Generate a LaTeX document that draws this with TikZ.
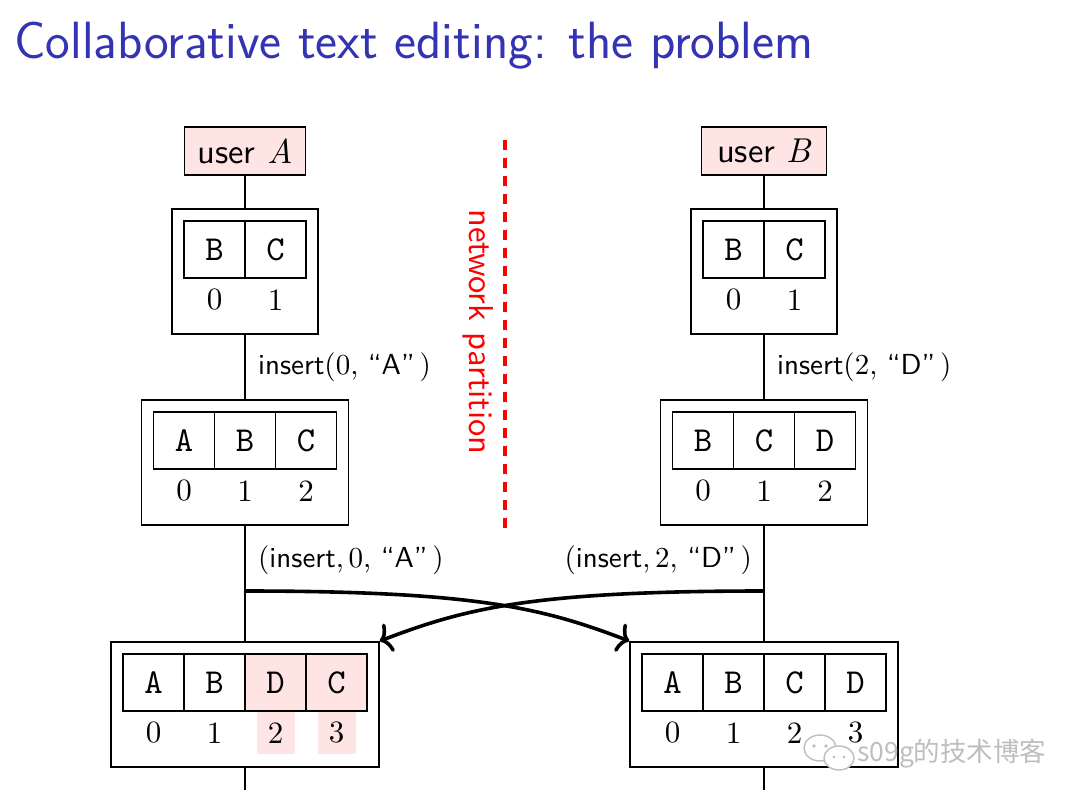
\documentclass[tikz,border=0pt]{standalone}
\usepackage{fontspec}
\newfontfamily\cjkfont{Noto Sans CJK SC}
\newfontfamily\lmsansten{lmsans10-regular}[Extension=.otf,Ligatures=TeX]
\newfontfamily\lmromanten{lmroman10-regular}[Extension=.otf,Ligatures=TeX]
\newfontfamily\lmromanitten{lmroman10-italic}[Extension=.otf]
\newfontfamily\lmmonoten{lmmono10-regular}[Extension=.otf]
\usetikzlibrary{arrows.meta}
\definecolor{titleblue}{RGB}{51,51,179}
\definecolor{pinkfill}{RGB}{255,228,228}
\definecolor{wmgray}{RGB}{190,190,190}
\newcommand\diagbody{\fontsize{34.5}{41}\selectfont\lmsansten}
\newcommand\diaglbl{\fontsize{29}{34}\selectfont\lmsansten}
\newcommand\diagcell{\fontsize{35}{40}\selectfont\lmmonoten}
\newcommand\diagdigit{\fontsize{31}{34}\selectfont\lmromanten}
\newcommand\diagtitle{\fontsize{52.4}{60}\selectfont\sffamily}
\newcommand\rmt[1]{{\lmromanten #1}}
\newcommand\itt[1]{{\lmromanitten #1}}
\newcommand\mkstate[5]{% name, cx, top, n, entries letter/cellstyle/digitstyle
  \node[outerbox, minimum width={61pt*#4+24pt}, anchor=north] (#1) at (#2,#3) {};
  \foreach \ch/\cs/\ds [count=\i from 0] in {#5} {
    \node[\cs] (#1c\i) at ({#2-61*#4/2+61*\i+30.5},{#3+41.5}) {\ch};
    \node[\ds] (#1d\i) at ({#2-61*#4/2+61*\i+30.5},{#3+92}) {\i};
  }
}
\begin{document}
\begin{tikzpicture}[x=1pt,y=-1pt,
  thinline/.style={line width=1.6pt},
  userbox/.style={draw, line width=1.6pt, fill=pinkfill, minimum height=48pt, inner sep=0pt, font=\diagbody},
  outerbox/.style={draw, line width=1.6pt, minimum height=125pt, inner sep=0pt},
  cell/.style={draw, line width=1.6pt, minimum width=61pt, minimum height=57pt, inner sep=0pt, font=\diagcell},
  pinkcell/.style={cell, fill=pinkfill},
  digit/.style={inner sep=0pt, font=\diagdigit},
  pinkdigit/.style={digit, fill=pinkfill, minimum width=38pt, minimum height=42pt},
  lbl/.style={inner sep=0pt, font=\diaglbl},
  bigarrow/.style={line width=3.6pt, -{Computer Modern Rightarrow[length=11pt,width=30pt]}},
  partition/.style={draw=red, line width=4.5pt, dash pattern=on 10pt off 8pt}
]
\useasboundingbox (0,0) rectangle (1080,804);

% title
\node[anchor=base west, inner sep=0pt, text=titleblue, font=\diagtitle] (title) at (14,58) {Collaborative text editing: the problem};

% users
\node[userbox, minimum width=121pt] (ua) at (245,151) {user \itt{A}};
\node[userbox, minimum width=125pt] (ub) at (764,151) {user \itt{B}};

% states of A
\mkstate{a1}{245}{208}{2}{B/cell/digit, C/cell/digit}
\mkstate{a2}{245}{399}{3}{A/cell/digit, B/cell/digit, C/cell/digit}
\mkstate{a3}{245}{641}{4}{A/cell/digit, B/cell/digit, D/pinkcell/pinkdigit, C/pinkcell/pinkdigit}

% states of B
\mkstate{b1}{764}{208}{2}{B/cell/digit, C/cell/digit}
\mkstate{b2}{764}{399}{3}{B/cell/digit, C/cell/digit, D/cell/digit}
\mkstate{b3}{764}{641}{4}{A/cell/digit, B/cell/digit, C/cell/digit, D/cell/digit}

% timelines
\coordinate (aend) at (245,790);
\coordinate (bend) at (764,790);
\draw[thinline] (ua.south) -- (a1.north);
\draw[thinline] (a1.south) -- (a2.north);
\draw[thinline] (a2.south) -- (a3.north);
\draw[thinline] (a3.south) -- (aend);
\draw[thinline] (ub.south) -- (b1.north);
\draw[thinline] (b1.south) -- (b2.north);
\draw[thinline] (b2.south) -- (b3.north);
\draw[thinline] (b3.south) -- (bend);

% labels
\node[lbl, anchor=west] (la1) at (258,367) {insert\rmt{(0,} “A”\rmt{\,)}};
\node[lbl, anchor=west] (lb1) at (777,367) {insert\rmt{(2,} “D”\rmt{\,)}};
\node[lbl, anchor=west] (la2) at (258,560) {\rmt{(}insert\rmt{,\,0,} “A”\rmt{\,)}};
\node[lbl, anchor=east] (lb2) at (752,560) {\rmt{(}insert\rmt{,\,2,} “D”\rmt{\,)}};

% messages
\coordinate (sa) at (245,591);
\coordinate (sb) at (764,591);
\draw[bigarrow] (sa) .. controls (480,591) and (545,609) .. (b3.north west);
\draw[bigarrow] (sb) .. controls (529,591) and (464,609) .. (a3.north east);

% network partition
\coordinate (p1) at (505,140);
\coordinate (p2) at (505,530);
\draw[partition] (p1) -- (p2);
\node[rotate=-90, inner sep=0pt, text=red, font=\diagbody] (np) at (478,332) {network partition};

% watermark
\draw[wmgray, line width=1.4pt, fill=white] (820,748) ellipse [x radius=16pt, y radius=13pt];
\fill[wmgray] (814,746) circle (1.8pt) (826,746) circle (1.8pt);
\draw[wmgray, line width=1.4pt, fill=white] (839,758) ellipse [x radius=15pt, y radius=12pt];
\fill[wmgray] (834,757) circle (1.5pt) (844,757) circle (1.5pt);
\node[anchor=west, inner sep=0pt, text=wmgray, font=\cjkfont\fontsize{26.5}{30}\selectfont] (wm) at (857,754) {s09g的技术博客};
\end{tikzpicture}
\end{document}
